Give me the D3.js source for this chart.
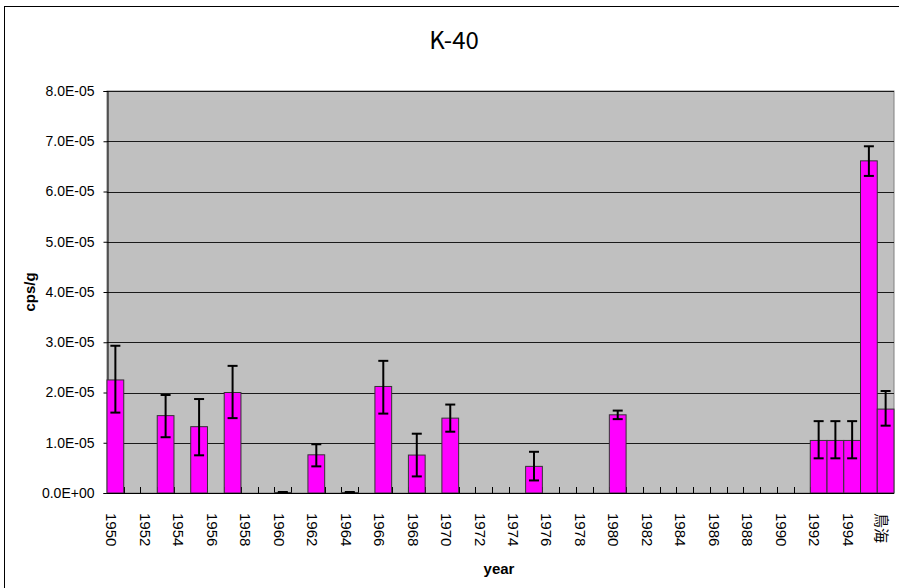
<!DOCTYPE html>
<html>
<head>
<meta charset="utf-8">
<script src="https://cdn.jsdelivr.net/npm/d3@7"></script>
<style>
  html, body { margin: 0; padding: 0; background: #fff; }
  svg { display: block; }
</style>
</head>
<body>
<script>
// ---- data (values in cps/g) ----
const categories = [
  "1950","1951","1952","1953","1954","1955","1956","1957","1958","1959",
  "1960","1961","1962","1963","1964","1965","1966","1967","1968","1969",
  "1970","1971","1972","1973","1974","1975","1976","1977","1978","1979",
  "1980","1981","1982","1983","1984","1985","1986","1987","1988","1989",
  "1990","1991","1992","1993","1994","1995","鳥海"
];
// bar values (null = no data)
const values = [
  2.25e-5, null, null, 1.54e-5, null, 1.32e-5, null, 2.00e-5, null, null,
  0.01e-5, null, 0.76e-5, null, 0.01e-5, null, 2.12e-5, null, 0.755e-5, null,
  1.49e-5, null, null, null, null, 0.53e-5, null, null, null, null,
  1.556e-5, null, null, null, null, null, null, null, null, null,
  null, null, 1.046e-5, 1.046e-5, 1.046e-5, 6.61e-5, 1.67e-5
];
// error bar upper ends
const errHigh = [
  2.93e-5, null, null, 1.95e-5, null, 1.87e-5, null, 2.53e-5, null, null,
  0.02e-5, null, 0.97e-5, null, 0.02e-5, null, 2.63e-5, null, 1.18e-5, null,
  1.76e-5, null, null, null, null, 0.82e-5, null, null, null, null,
  1.64e-5, null, null, null, null, null, null, null, null, null,
  null, null, 1.43e-5, 1.43e-5, 1.43e-5, 6.90e-5, 2.03e-5
];
// error bar lower ends
const errLow = [
  1.60e-5, null, null, 1.11e-5, null, 0.75e-5, null, 1.49e-5, null, null,
  0.0, null, 0.53e-5, null, 0.0, null, 1.58e-5, null, 0.33e-5, null,
  1.22e-5, null, null, null, null, 0.25e-5, null, null, null, null,
  1.47e-5, null, null, null, null, null, null, null, null, null,
  null, null, 0.69e-5, 0.69e-5, 0.69e-5, 6.31e-5, 1.34e-5
];
const yTicks = [0, 1e-5, 2e-5, 3e-5, 4e-5, 5e-5, 6e-5, 7e-5, 8e-5];
const yTickLabels = ["0.0E+00","1.0E-05","2.0E-05","3.0E-05","4.0E-05","5.0E-05","6.0E-05","7.0E-05","8.0E-05"];
const titleText = "K-40";
const xTitle = "year";
const yTitle = "cps/g";

// ---- layout ----
const W = 899, H = 588;
const plot = { left: 107, right: 894, top: 91, bottom: 493 };
const font = "'Liberation Sans', Arial, 'Noto Sans CJK JP', sans-serif";

const svg = d3.select("body").append("svg")
  .attr("width", W).attr("height", H)
  .style("font-family", font);

// outer frame
svg.append("rect")
  .attr("x", 4.5).attr("y", 6.5)
  .attr("width", W + 10).attr("height", H + 10)
  .attr("fill", "#fff").attr("stroke", "#000").attr("stroke-width", 1);

const x = d3.scaleBand()
  .domain(categories)
  .range([plot.left, plot.right])
  .padding(0);

const y = d3.scaleLinear()
  .domain([0, 8e-5])
  .range([plot.bottom, plot.top]);

// plot background
svg.append("rect")
  .attr("x", plot.left).attr("y", plot.top)
  .attr("width", plot.right - plot.left).attr("height", plot.bottom - plot.top)
  .attr("fill", "#C0C0C0").attr("stroke", "#808080").attr("stroke-width", 1);

// gridlines
svg.append("g").selectAll("line")
  .data(yTicks.slice(1))
  .join("line")
  .attr("x1", plot.left).attr("x2", plot.right)
  .attr("y1", d => Math.round(y(d)) + 0.5).attr("y2", d => Math.round(y(d)) + 0.5)
  .attr("stroke", "#1a1a1a").attr("stroke-width", 1);

// y axis
const yAxis = d3.axisLeft(y)
  .tickValues(yTicks)
  .tickFormat((d, i) => yTickLabels[i])
  .tickSize(4)
  .tickPadding(9);
const yg = svg.append("g")
  .attr("transform", `translate(${plot.left + 0.5},0)`)
  .call(yAxis);
yg.select(".domain").attr("stroke", "#000");
yg.selectAll(".tick line").attr("stroke", "#000");
yg.selectAll("text").attr("font-size", 14).attr("fill", "#000").attr("font-family", font);

// x-axis boundary ticks (inside, upward)
const boundaries = categories.slice(1).map(c => x(c));
svg.append("g").selectAll("line")
  .data(boundaries)
  .join("line")
  .attr("x1", d => Math.round(d) + 0.5).attr("x2", d => Math.round(d) + 0.5)
  .attr("y1", plot.bottom).attr("y2", plot.bottom - 6)
  .attr("stroke", "#000");

// bars
const barData = categories.map((c, i) => ({ c, v: values[i], hi: errHigh[i], lo: errLow[i] }))
  .filter(d => d.v !== null);

svg.append("g").selectAll("rect")
  .data(barData)
  .join("rect")
  .attr("x", d => x(d.c))
  .attr("y", d => y(d.v))
  .attr("width", x.bandwidth())
  .attr("height", d => y(0) - y(d.v))
  .attr("fill", "#FF00FF")
  .attr("stroke", "#333")
  .attr("stroke-width", 1);

// x axis line
svg.append("line")
  .attr("x1", plot.left).attr("x2", plot.right)
  .attr("y1", plot.bottom + 0.5).attr("y2", plot.bottom + 0.5)
  .attr("stroke", "#000").attr("stroke-width", 1.2);

// error bars
const eg = svg.append("g").attr("stroke", "#000").attr("stroke-width", 2);
barData.forEach(d => {
  const cx = x(d.c) + x.bandwidth() / 2;
  eg.append("line").attr("x1", cx).attr("x2", cx).attr("y1", y(d.hi)).attr("y2", y(d.lo));
  eg.append("line").attr("x1", cx - 5).attr("x2", cx + 5).attr("y1", y(d.hi)).attr("y2", y(d.hi));
  eg.append("line").attr("x1", cx - 5).attr("x2", cx + 5).attr("y1", y(d.lo)).attr("y2", y(d.lo));
});

// x tick labels (every second category), rotated
svg.append("g").selectAll("text")
  .data(categories.filter((c, i) => i % 2 === 0))
  .join("text")
  .attr("transform", d => `translate(${x(d) + x.bandwidth() / 2 - 4},513) rotate(90)`)
  .attr("dy", "0.35em")
  .attr("text-anchor", "start")
  .attr("font-size", 15)
  .attr("fill", "#000")
  .text(d => d);

// titles
svg.append("text")
  .attr("x", 454).attr("y", 49)
  .attr("text-anchor", "middle")
  .attr("font-size", 24)
  .attr("font-family", "'Noto Sans CJK JP', 'DejaVu Sans', sans-serif")
  .text(titleText);

svg.append("text")
  .attr("x", 499).attr("y", 574)
  .attr("text-anchor", "middle")
  .attr("font-size", 15)
  .attr("font-weight", "bold")
  .text(xTitle);

svg.append("text")
  .attr("transform", `translate(35,292) rotate(-90)`)
  .attr("text-anchor", "middle")
  .attr("font-size", 15)
  .attr("font-weight", "bold")
  .text(yTitle);
</script>
</body>
</html>
